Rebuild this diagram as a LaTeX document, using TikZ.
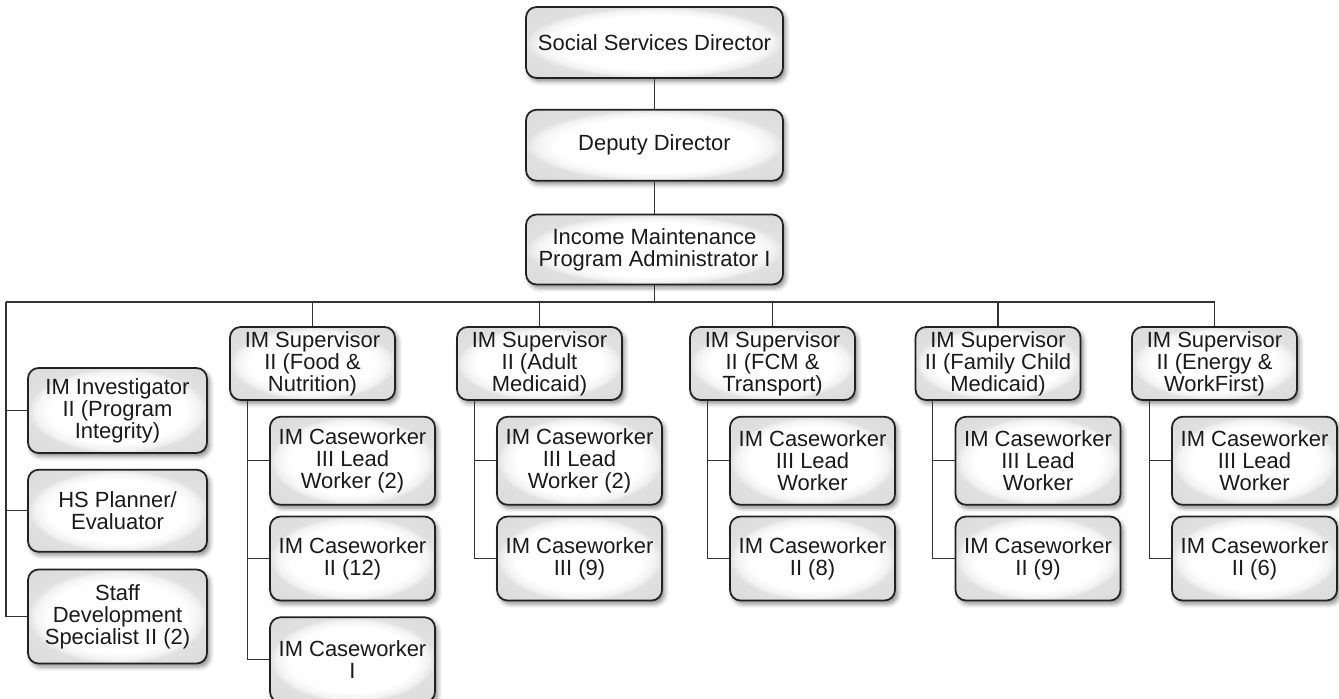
\documentclass[tikz,border=0pt]{standalone}
\usepackage{fontspec}
\setmainfont{Liberation Sans}
\usetikzlibrary{positioning,shadows.blur}
\definecolor{ink}{HTML}{1A1A1A}
\definecolor{edge}{HTML}{222222}
\definecolor{wire}{HTML}{333333}
% white face, grey rim
\pgfdeclareradialshading{bevel}{\pgfpoint{0bp}{0bp}}{color(0bp)=(white); color(19bp)=(white); color(23bp)=(black!5); color(25bp)=(black!12); color(50bp)=(black!18)}
\tikzset{
  every node/.style={font=\fontsize{12.5}{12.5}\selectfont, text=ink},
  box/.style={draw=edge, line width=1pt, rounded corners=6pt, shade, shading=bevel, align=center, inner sep=2pt,
    blur shadow={shadow xshift=1.5pt, shadow yshift=-2pt, shadow blur radius=2.5pt, shadow opacity=45}},
  head/.style={box, minimum width=5.14cm, minimum height=1.42cm},
  side/.style={box, minimum width=3.58cm},
  sup/.style={box, minimum width=3.3cm, minimum height=1.46cm},
  lead/.style={box, minimum width=3.3cm, minimum height=1.76cm},
  worker/.style={box, minimum width=3.3cm, minimum height=1.68cm},
  link/.style={draw=wire, line width=0.6pt},
}

\begin{document}
\begin{tikzpicture}
  \useasboundingbox (0,0) rectangle (26.78,-13.96);

  % ---- chain of command -------------------------------------------------
  \node[head] (dir) at (13.09,-0.85) {Social Services Director};
  \node[head, below=0.6cm of dir] (dep) {Deputy Director};
  \node[head, below=0.64cm of dep, minimum height=1.4cm] (ima) {Income Maintenance\\Program Administrator I};

  % ---- staff under the administrator --------------------------------------
  \node[side, minimum height=1.7cm] (inv) at (2.35,-8.21) {IM Investigator\\II (Program\\Integrity)};
  \node[side, minimum height=1.64cm, below=0.3cm of inv] (hsp) {HS Planner/\\Evaluator};
  \node[side, minimum height=1.88cm, below=0.32cm of hsp] (sdev) {Staff\\Development\\Specialist II (2)};

  % ---- supervisors ----------------------------------------------------------
  \node[sup] (food) at (6.25,-7.27) {IM Supervisor\\II (Food \&\\Nutrition)};
  \node[sup] (adult) at (10.79,-7.27) {IM Supervisor\\II (Adult\\Medicaid)};
  \node[sup] (fcm) at (15.45,-7.27) {IM Supervisor\\II (FCM \&\\Transport)};
  \node[sup] (fam) at (19.96,-7.27) {IM Supervisor\\II (Family Child\\Medicaid)};
  \node[sup] (nrg) at (24.29,-7.27) {IM Supervisor\\II (Energy \&\\WorkFirst)};

  % ---- caseworkers ----------------------------------------------------------
  \node[lead, below=0.3cm of food, xshift=0.8cm] (foodA) {IM Caseworker\\III Lead\\Worker (2)};
  \node[worker, below=0.2cm of foodA] (foodB) {IM Caseworker\\II (12)};
  \node[worker, below=0.3cm of foodB, minimum height=1.7cm] (foodC) {IM Caseworker\\I};

  \node[lead, below=0.3cm of adult, xshift=0.8cm] (adultA) {IM Caseworker\\III Lead\\Worker (2)};
  \node[worker, below=0.2cm of adultA] (adultB) {IM Caseworker\\III (9)};

  \node[lead, below=0.3cm of fcm, xshift=0.8cm] (fcmA) {IM Caseworker\\III Lead\\Worker};
  \node[worker, below=0.2cm of fcmA] (fcmB) {IM Caseworker\\II (8)};

  \node[lead, below=0.3cm of fam, xshift=0.8cm] (famA) {IM Caseworker\\III Lead\\Worker};
  \node[worker, below=0.2cm of famA] (famB) {IM Caseworker\\II (9)};

  \node[lead, below=0.3cm of nrg, xshift=0.8cm] (nrgA) {IM Caseworker\\III Lead\\Worker};
  \node[worker, below=0.2cm of nrgA] (nrgB) {IM Caseworker\\II (6)};

  % ---- connectors -----------------------------------------------------------
  \draw[link] (dir) -- (dep);
  \draw[link] (dep) -- (ima);
  \coordinate (bus) at (0.12,-6.04);
  \draw[link] (ima) -- (ima.south |- bus);
  \draw[link] (bus) -| (nrg);
  \draw[link] (bus) |- (sdev);
  \draw[link] (bus |- inv) -- (inv);
  \draw[link] (bus |- hsp) -- (hsp);
  \draw[link] (food |- bus) -- (food);
  \draw[link] (adult |- bus) -- (adult);
  \draw[link] (fcm |- bus) -- (fcm);
  \draw[link] (fam |- bus) -- (fam);

  \draw[link] ([xshift=0.36cm]food.south west) |- (foodA) ([xshift=0.36cm]food.south west) |- (foodB) ([xshift=0.36cm]food.south west) |- (foodC);
  \draw[link] ([xshift=0.36cm]adult.south west) |- (adultA) ([xshift=0.36cm]adult.south west) |- (adultB);
  \draw[link] ([xshift=0.36cm]fcm.south west) |- (fcmA) ([xshift=0.36cm]fcm.south west) |- (fcmB);
  \draw[link] ([xshift=0.36cm]fam.south west) |- (famA) ([xshift=0.36cm]fam.south west) |- (famB);
  \draw[link] ([xshift=0.36cm]nrg.south west) |- (nrgA) ([xshift=0.36cm]nrg.south west) |- (nrgB);
\end{tikzpicture}
\end{document}
